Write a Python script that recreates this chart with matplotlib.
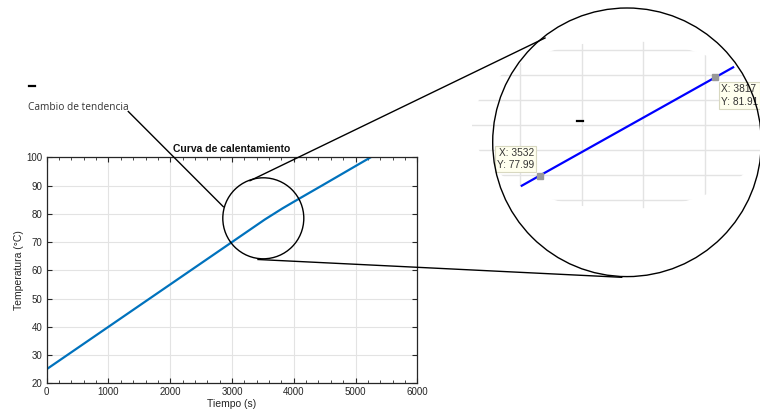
import numpy as np
import matplotlib
matplotlib.use('Agg')
import matplotlib.pyplot as plt
import matplotlib.transforms as mtransforms
from matplotlib.patches import Circle, Ellipse
from matplotlib.ticker import MultipleLocator

# heating curve (time in s, temperature in degC)
tiempo = [0, 1000, 2000, 3000, 3532, 3817, 4000, 4500, 5000, 5245]
temperatura = [25, 40, 55, 70, 77.99, 81.91, 84.25, 90.55, 96.9, 100]

# zoomed segment shown inside the magnifier
zoom_tiempo = [3503, 3532, 3817, 3846]
zoom_temp = [77.59, 77.99, 81.91, 82.31]

# data tips
tip_x = [3532, 3817]
tip_y = [77.99, 81.91]

W, H = 760, 413
fig = plt.figure(figsize=(W / 100, H / 100), dpi=100)
plt.rcParams['font.family'] = ['Liberation Sans', 'DejaVu Sans']

# pixel transform (origin top-left, y down) for annotation decorations
px = mtransforms.Affine2D().scale(1 / W, -1 / H).translate(0, 1) + fig.transFigure

def box(x0, y0, x1, y1):
    return [x0 / W, 1 - y1 / H, (x1 - x0) / W, (y1 - y0) / H]

axis_col = '#262626'
grid_col = '#e3e3e3'

# main axes
ax = fig.add_axes(box(46.7, 157.3, 417.3, 383.3))
ax.plot(tiempo, temperatura, color='#0072BD', lw=1.6)
ax.set_xlim(0, 6000)
ax.set_ylim(20, 100)
ax.xaxis.set_major_locator(MultipleLocator(1000))
ax.xaxis.set_minor_locator(MultipleLocator(200))
ax.yaxis.set_major_locator(MultipleLocator(10))
ax.grid(True, color=grid_col, lw=0.8)
ax.set_axisbelow(True)
ax.tick_params(which='both', direction='in', top=True, right=True, colors=axis_col,
               labelsize=7, pad=3)
ax.tick_params(which='major', length=3.5, width=0.8)
ax.tick_params(which='minor', length=2, width=0.6)
for s in ax.spines.values():
    s.set_color(axis_col)
    s.set_linewidth(0.9)
ax.set_xlabel('Tiempo (s)', fontsize=7.5, color=axis_col, labelpad=1)
ax.set_ylabel('Temperatura (°C)', fontsize=7.5, color=axis_col, labelpad=2)
ax.set_title('Curva de calentamiento', fontsize=7.5, fontweight='bold', color='#111111', pad=4)

# magnifier content (inset) clipped by an ellipse
ins = fig.add_axes(box(470, 40, 760, 210))
ins.set_xlim(3418.9, 3889.6)
ins.set_ylim(76.62, 83.40)
ins.set_axis_off()
clip = Ellipse((622, 125), 300, 168, transform=px, fill=False, lw=0)
fig.add_artist(clip)
clip.set_visible(False)
for gx in [3500, 3600, 3700, 3800]:
    ln = ins.axvline(gx, color=grid_col, lw=1.0, zorder=0)
    ln.set_clip_path(clip)
for gy in [77, 78, 79, 80, 81, 82, 83]:
    ln = ins.axhline(gy, color=grid_col, lw=1.0, zorder=0)
    ln.set_clip_path(clip)
ins.plot(zoom_tiempo, zoom_temp, color='#0000ff', lw=1.6, zorder=2)
ins.plot(tip_x, tip_y, 's', color='#999999', ms=5, mec='#999999', zorder=3)
tip_box = dict(boxstyle='square,pad=0.2', fc='#ffffee', ec='#d8d8c0', lw=0.8)
ins.annotate('X: 3532\nY: 77.99', (tip_x[0], tip_y[0]), xytext=(-4, 4), textcoords='offset points',
             fontsize=7.3, color='#333333', bbox=tip_box, va='bottom', ha='right',
             linespacing=1.3, annotation_clip=False, zorder=4)
ins.annotate('X: 3817\nY: 81.91', (tip_x[1], tip_y[1]), xytext=(4, -5), textcoords='offset points',
             fontsize=7.3, color='#333333', bbox=tip_box, va='top', ha='left',
             linespacing=1.3, annotation_clip=False, zorder=4)

# magnifier circles and connectors
fig.add_artist(Circle((263.3, 218.3), 40.5, transform=px, fill=False, ec='black', lw=1.0))
fig.add_artist(Circle((627, 142.3), 134.3, transform=px, fill=False, ec='black', lw=1.0, clip_on=False))
for (x0, y0), (x1, y1) in [((250, 180.7), (545, 38)), ((258, 259.5), (621.7, 277.3)),
                           ((128.3, 111.5), (223.3, 206.7))]:
    fig.add_artist(plt.Line2D([x0, x1], [y0, y1], transform=px, color='black', lw=1.0))

# label and stray marks
fig.text(28 / W, 1 - 107 / H, 'Cambio de tendencia', fontsize=7.3, family='Open Sans',
         color='#333333', va='center', ha='left')
fig.add_artist(plt.Line2D([29, 35], [85.5, 85.5], transform=px, color='black', lw=1.6))
fig.add_artist(plt.Line2D([577, 583], [120.5, 120.5], transform=px, color='black', lw=1.6))

fig.savefig('out.png', dpi=100)
